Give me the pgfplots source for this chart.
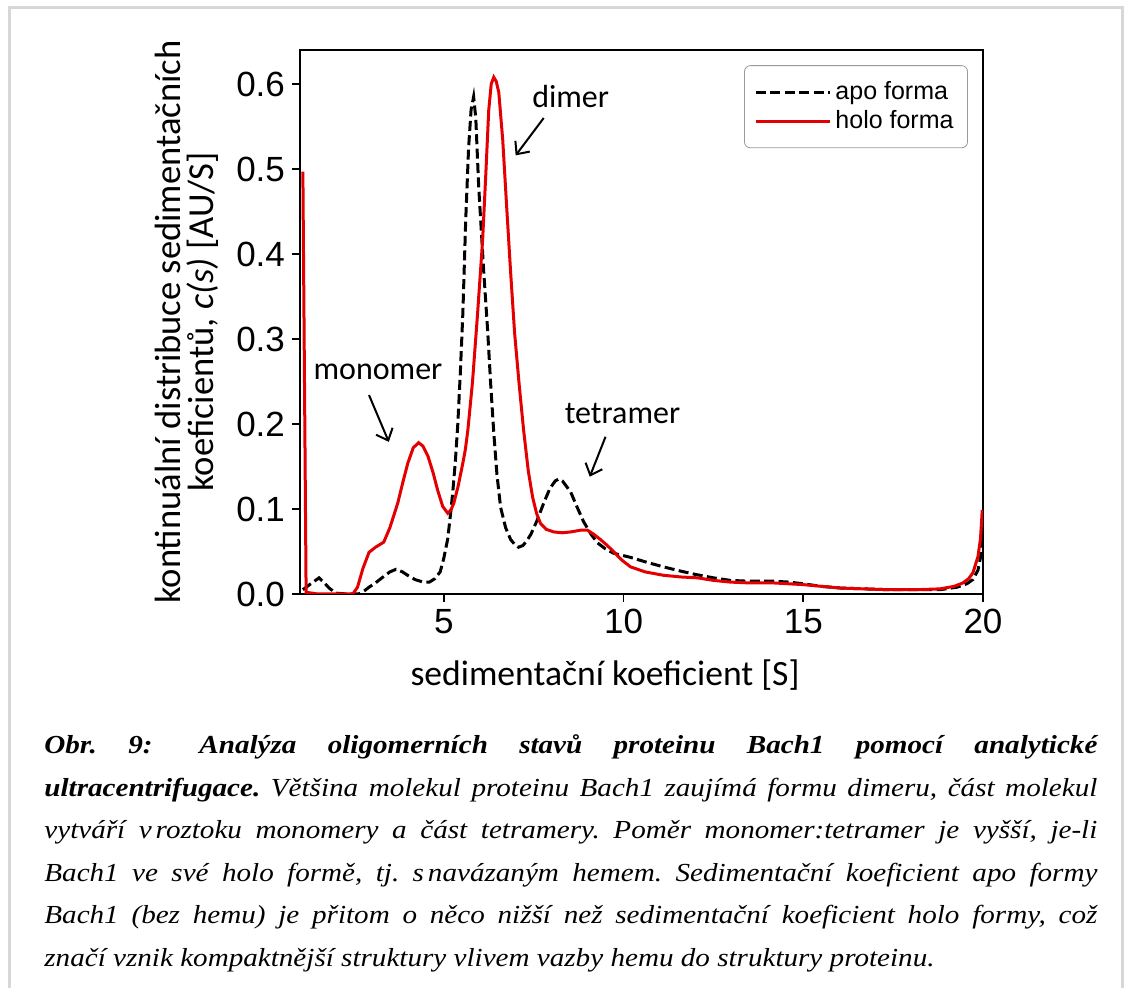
\documentclass[border=0pt]{standalone}
\usepackage{fontspec}
\usepackage{pgfplots}
\pgfplotsset{compat=1.18}
\usetikzlibrary{arrows.meta}
\setmainfont{Liberation Serif}
\newfontfamily\capfont[FakeStretch=1.12]{Liberation Serif}
\newfontfamily\labelfont{Carlito}
\newfontfamily\tickfont{Liberation Sans}
\definecolor{holored}{RGB}{228,0,0}
\definecolor{framegray}{RGB}{215,215,215}
\frenchspacing
\newcommand\capsize{\capfont\fontsize{13}{15}\selectfont}
\newcommand\capline[2]{\node[anchor=base west, inner sep=0] at (22pt,#1) {\capsize\makebox[526.5pt][s]{#2}};}
\begin{document}
\begin{tikzpicture}
\useasboundingbox (0,0) rectangle (565.5pt,494pt);
\draw[framegray, line width=1.5pt] (4.5pt,0) -- (4.5pt,490pt) -- (561pt,490pt) -- (561pt,0);
\begin{axis}[
  at={(150pt,197pt)}, anchor=south west,
  scale only axis, width=341.5pt, height=272pt,
  xmin=1, xmax=20, ymin=0, ymax=0.64,
  xtick={5,10,15,20}, ytick={0,0.1,0.2,0.3,0.4,0.5,0.6},
  yticklabel style={/pgf/number format/.cd, fixed, fixed zerofill, precision=1},
  /pgf/number format/assume math mode=true,
  tick label style={font=\tickfont\fontsize{17.5}{17.5}\selectfont},
  tick align=outside, major tick length=4pt,
  xtick pos=bottom, ytick pos=left,
  every tick/.style={black, line width=0.9pt},
  axis line style={line width=0.9pt},
  xlabel={sedimentační koeficient [S]},
  xlabel style={at={(axis description cs:0.4466,-0.149)}, anchor=center, font=\labelfont\fontsize{17.8}{17.8}\selectfont},
  ylabel={kontinuální distribuce sedimentačních\\koeficientů, \textit{c(s)} [AU/S]},
  ylabel style={at={(axis description cs:-0.165,0.5)}, anchor=center, rotate=0, align=center, font=\labelfont\fontsize{18.3}{16.5}\selectfont},
  legend style={at={(0.978,0.972)}, anchor=north east, draw=gray!80, rounded corners=3pt,
    font=\tickfont\fontsize{12.5}{14}\selectfont, inner xsep=5pt, inner ysep=6pt},
  legend cell align=left,
  legend image code/.code={\draw[#1] (0pt,0pt) -- (30pt,0pt); \path (0pt,0pt) -- (37pt,0pt);},
]
\addplot[black, line width=1.5pt, dash pattern=on 5pt off 2.2pt] coordinates {
(1.08,0.005)(1.3,0.012)(1.53,0.019)(1.68,0.013)(1.81,0.007)(2.0,0.001)(2.3,0.0)(2.64,0.0)
(2.8,0.004)(2.92,0.008)(3.1,0.013)(3.31,0.020)(3.5,0.026)(3.67,0.029)(3.85,0.026)(4.03,0.021)
(4.2,0.017)(4.42,0.014)(4.6,0.014)(4.75,0.018)(4.9,0.026)(5.0,0.042)(5.11,0.065)(5.19,0.095)
(5.25,0.12)(5.32,0.155)(5.39,0.2)(5.46,0.26)(5.53,0.33)(5.61,0.44)(5.69,0.525)(5.76,0.57)
(5.83,0.585)(5.89,0.56)(5.97,0.48)(6.04,0.43)(6.11,0.38)(6.22,0.31)(6.3,0.25)(6.39,0.19)
(6.48,0.14)(6.58,0.102)(6.72,0.078)(6.86,0.064)(7.0,0.057)(7.08,0.055)(7.2,0.057)(7.3,0.062)
(7.42,0.07)(7.6,0.087)(7.78,0.107)(7.95,0.124)(8.1,0.133)(8.19,0.135)(8.3,0.133)(8.53,0.12)
(8.7,0.103)(8.89,0.085)(9.1,0.07)(9.28,0.06)(9.5,0.053)(9.72,0.048)(10.2,0.043)(10.67,0.037)
(11.1,0.032)(11.58,0.027)(12.0,0.023)(12.5,0.019)(12.97,0.016)(13.5,0.015)(14.17,0.015)
(14.6,0.014)(15.0,0.012)(15.5,0.009)(16.03,0.007)(16.7,0.006)(17.4,0.005)(18.1,0.005)
(18.8,0.005)(19.28,0.008)(19.55,0.012)(19.72,0.017)(19.86,0.028)(19.94,0.045)(20.0,0.07)
};
\addlegendentry{apo forma}
\addplot[holored, line width=1.5pt] coordinates {
(1.08,0.497)(1.17,0.002)(1.5,0.0)(2.0,0.0)(2.47,0.0)(2.6,0.008)(2.75,0.03)(2.92,0.049)
(3.1,0.055)(3.33,0.061)(3.5,0.078)(3.72,0.107)(3.87,0.133)(4.0,0.154)(4.15,0.172)(4.3,0.178)
(4.42,0.174)(4.56,0.162)(4.7,0.143)(4.83,0.122)(4.97,0.103)(5.11,0.095)(5.2,0.099)(5.28,0.107)
(5.4,0.127)(5.53,0.154)(5.6,0.17)(5.67,0.193)(5.8,0.25)(5.94,0.33)(6.08,0.416)(6.17,0.495)
(6.25,0.569)(6.32,0.6)(6.39,0.608)(6.46,0.603)(6.53,0.59)(6.64,0.534)(6.75,0.455)(6.86,0.378)
(6.97,0.307)(7.1,0.245)(7.22,0.193)(7.35,0.145)(7.47,0.114)(7.58,0.095)(7.69,0.083)(7.85,0.076)
(8.06,0.073)(8.3,0.072)(8.53,0.073)(8.8,0.075)(9.0,0.075)(9.18,0.07)(9.36,0.064)(9.55,0.057)
(9.72,0.05)(9.95,0.04)(10.19,0.032)(10.6,0.026)(11.11,0.022)(11.6,0.020)(12.06,0.019)
(12.5,0.016)(12.97,0.014)(13.5,0.013)(14.17,0.013)(14.6,0.012)(15.0,0.011)(15.5,0.009)
(16.03,0.007)(16.7,0.006)(17.4,0.005)(18.1,0.005)(18.8,0.006)(19.2,0.009)(19.44,0.013)
(19.6,0.018)(19.72,0.025)(19.86,0.044)(19.93,0.065)(19.98,0.099)
};
\addlegendentry{holo forma}
\node[font=\labelfont\fontsize{16}{16}\selectfont] at (axis cs:8.53,0.585) {dimer};
\node[font=\labelfont\fontsize{16}{16}\selectfont] at (axis cs:3.17,0.261) {monomer};
\node[font=\labelfont\fontsize{16}{16}\selectfont] at (axis cs:9.97,0.212) {tetramer};
\draw[-{Straight Barb[length=5pt,width=9pt]}, line width=1pt] (axis cs:7.78,0.56) -- (axis cs:7.0,0.516);
\draw[-{Straight Barb[length=5pt,width=9pt]}, line width=1pt] (axis cs:2.92,0.234) -- (axis cs:3.47,0.179);
\draw[-{Straight Barb[length=5pt,width=9pt]}, line width=1pt] (axis cs:9.5,0.185) -- (axis cs:9.06,0.138);
\end{axis}
\capline{117pt}{\bfseries\itshape Obr. 9:\hspace{0.6em} Analýza oligomerních stavů proteinu Bach1 pomocí analytické}
\capline{95.5pt}{\itshape\textbf{ultracentrifugace.} Většina molekul proteinu Bach1 zaujímá formu dimeru, část molekul}
\capline{74.5pt}{\itshape vytváří v\hspace{0.15em}roztoku monomery a část tetramery. Poměr monomer:tetramer je vyšší, je-li}
\capline{53pt}{\itshape Bach1 ve své holo formě, tj. s\hspace{0.15em}navázaným hemem. Sedimentační koeficient apo formy}
\capline{32pt}{\itshape Bach1 (bez hemu) je přitom o něco nižší než sedimentační koeficient holo formy, což}
\node[anchor=base west, inner sep=0] at (22pt,10.5pt) {\capsize\itshape značí vznik kompaktnější struktury vlivem vazby hemu do struktury proteinu.};
\end{tikzpicture}
\end{document}
